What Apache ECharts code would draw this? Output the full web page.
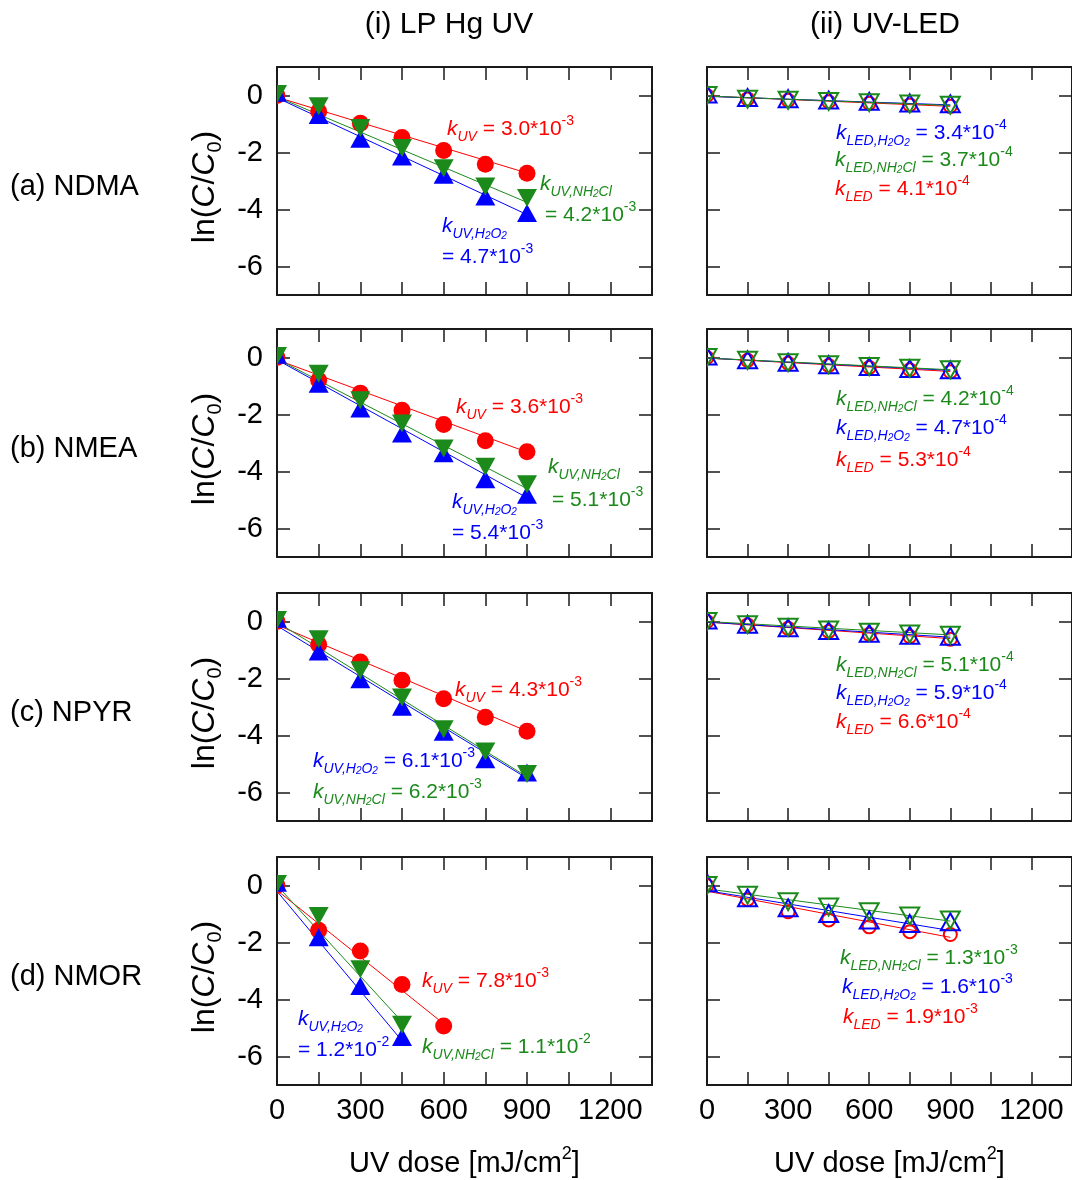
<!DOCTYPE html>
<html>
<head>
<meta charset="utf-8">
<script src="https://cdn.jsdelivr.net/npm/echarts@6/dist/echarts.min.js"></script>
<style>
  html, body { margin: 0; padding: 0; background: #fff; }
  #chart { width: 1072px; height: 1180px; }
</style>
</head>
<body>
<div id="chart"></div>
<script>
var RED = '#ff0000', GREEN = '#1b8a1b', BLUE = '#0000ff';
var FONT = '"Liberation Sans", Arial, Helvetica, sans-serif';

// x values (UV dose, mJ/cm2)
var doses = [0, 150, 300, 450, 600, 750, 900];
var dosesNMORred = [0, 150, 300, 450, 600];
var dosesNMORgb = [0, 150, 300, 450];
var fitDoses = [0, 900];

// ---- (i) LP Hg UV, ln(C/C0) ----
var ndmaUV       = [0.0, -0.56, -0.97, -1.47, -1.93, -2.41, -2.73];
var ndmaUVNH2Cl  = [0.05, -0.38, -1.14, -1.84, -2.55, -3.19, -3.60];
var ndmaUVH2O2   = [0.1, -0.68, -1.52, -2.14, -2.78, -3.54, -4.12];
var ndmaUVFit      = [-0.06, -2.72];
var ndmaUVNH2ClFit = [-0.05, -3.75];
var ndmaUVH2O2Fit  = [-0.08, -4.18];

var nmeaUV       = [0.0, -0.80, -1.25, -1.85, -2.35, -2.92, -3.31];
var nmeaUVNH2Cl  = [0.05, -0.57, -1.50, -2.32, -3.19, -3.83, -4.45];
var nmeaUVH2O2   = [0.1, -0.92, -1.79, -2.67, -3.36, -4.27, -4.82];
var nmeaUVFit      = [-0.08, -3.32];
var nmeaUVNH2ClFit = [-0.05, -4.60];
var nmeaUVH2O2Fit  = [-0.08, -4.92];

var npyrUV       = [0.0, -0.81, -1.42, -2.06, -2.71, -3.36, -3.85];
var npyrUVNH2Cl  = [0.05, -0.62, -1.71, -2.67, -3.78, -4.56, -5.35];
var npyrUVH2O2   = [0.1, -1.05, -2.03, -2.99, -3.87, -4.83, -5.30];
var npyrUVFit      = [-0.12, -3.85];
var npyrUVNH2ClFit = [-0.02, -5.45];
var npyrUVH2O2Fit  = [-0.15, -5.50];

var nmorUV       = [0.0, -1.57, -2.30, -3.47, -4.93];
var nmorUVNH2Cl  = [0.05, -1.07, -2.94, -4.89];
var nmorUVH2O2   = [0.1, -1.82, -3.53, -5.32];
var nmorUVFitX      = [0, 600];
var nmorUVFit       = [-0.17, -4.85];
var nmorUVNH2ClFitX = [0, 450];
var nmorUVNH2ClFit  = [0.0, -4.78];
var nmorUVH2O2FitX  = [0, 450];
var nmorUVH2O2Fit   = [-0.2, -5.45];

// ---- (ii) UV-LED, ln(C/C0) ----
var ndmaLED      = [0.0, -0.12, -0.17, -0.22, -0.27, -0.33, -0.38];
var ndmaLEDNH2Cl = [0.0, -0.13, -0.17, -0.21, -0.25, -0.30, -0.34];
var ndmaLEDH2O2  = [0.05, -0.07, -0.11, -0.16, -0.20, -0.26, -0.29];
var ndmaLEDFit      = [-0.02, -0.38];
var ndmaLEDNH2ClFit = [-0.02, -0.35];
var ndmaLEDH2O2Fit  = [-0.03, -0.33];

var nmeaLED      = [0.0, -0.10, -0.20, -0.28, -0.35, -0.43, -0.50];
var nmeaLEDNH2Cl = [0.0, -0.10, -0.18, -0.25, -0.32, -0.38, -0.43];
var nmeaLEDH2O2  = [0.05, -0.08, -0.17, -0.25, -0.32, -0.39, -0.43];
var nmeaLEDFit      = [-0.02, -0.49];
var nmeaLEDNH2ClFit = [-0.02, -0.43];
var nmeaLEDH2O2Fit  = [-0.02, -0.45];

var npyrLED      = [0.0, -0.12, -0.24, -0.35, -0.45, -0.53, -0.62];
var npyrLEDNH2Cl = [0.0, -0.11, -0.20, -0.30, -0.38, -0.44, -0.48];
var npyrLEDH2O2  = [0.05, -0.10, -0.22, -0.32, -0.41, -0.48, -0.52];
var npyrLEDFit      = [-0.02, -0.60];
var npyrLEDNH2ClFit = [0.0, -0.47];
var npyrLEDH2O2Fit  = [-0.02, -0.55];

var nmorLED      = [0.0, -0.49, -0.92, -1.21, -1.45, -1.62, -1.72];
var nmorLEDNH2Cl = [0.0, -0.34, -0.57, -0.75, -0.92, -1.07, -1.21];
var nmorLEDH2O2  = [0.1, -0.43, -0.78, -0.98, -1.21, -1.33, -1.27];
var nmorLEDFit      = [-0.2, -1.82];
var nmorLEDNH2ClFit = [-0.12, -1.25];
var nmorLEDH2O2Fit  = [-0.18, -1.58];

// labels
var colTitles = ['(i) LP Hg UV', '(ii) UV-LED'];
var rowLabels = ['(a) NDMA', '(b) NMEA', '(c) NPYR', '(d) NMOR'];
var xTickValues = [0, 300, 600, 900, 1200];
var yTickValues = [-6, -4, -2, 0];

// panel layout
var colLeft = [277, 707];
var rowTop = [67, 329, 593, 857];
var panelW = 375, panelH = 228;

function zip(xs, ys) {
  return ys.map(function (y, i) { return [xs[i], y]; });
}

// one set = marker kind + points + fitted line
function set(color, shape, xs, ys, fx, fy) {
  return { color: color, shape: shape, xs: xs, ys: ys, fx: fx, fy: fy };
}

var panels = [
  [ // NDMA
    [set(RED, 'circle', doses, ndmaUV, fitDoses, ndmaUVFit),
     set(BLUE, 'up', doses, ndmaUVH2O2, fitDoses, ndmaUVH2O2Fit),
     set(GREEN, 'down', doses, ndmaUVNH2Cl, fitDoses, ndmaUVNH2ClFit)],
    [set(RED, 'circle', doses, ndmaLED, fitDoses, ndmaLEDFit),
     set(BLUE, 'up', doses, ndmaLEDH2O2, fitDoses, ndmaLEDH2O2Fit),
     set(GREEN, 'down', doses, ndmaLEDNH2Cl, fitDoses, ndmaLEDNH2ClFit)]
  ],
  [ // NMEA
    [set(RED, 'circle', doses, nmeaUV, fitDoses, nmeaUVFit),
     set(BLUE, 'up', doses, nmeaUVH2O2, fitDoses, nmeaUVH2O2Fit),
     set(GREEN, 'down', doses, nmeaUVNH2Cl, fitDoses, nmeaUVNH2ClFit)],
    [set(RED, 'circle', doses, nmeaLED, fitDoses, nmeaLEDFit),
     set(BLUE, 'up', doses, nmeaLEDH2O2, fitDoses, nmeaLEDH2O2Fit),
     set(GREEN, 'down', doses, nmeaLEDNH2Cl, fitDoses, nmeaLEDNH2ClFit)]
  ],
  [ // NPYR
    [set(RED, 'circle', doses, npyrUV, fitDoses, npyrUVFit),
     set(BLUE, 'up', doses, npyrUVH2O2, fitDoses, npyrUVH2O2Fit),
     set(GREEN, 'down', doses, npyrUVNH2Cl, fitDoses, npyrUVNH2ClFit)],
    [set(RED, 'circle', doses, npyrLED, fitDoses, npyrLEDFit),
     set(BLUE, 'up', doses, npyrLEDH2O2, fitDoses, npyrLEDH2O2Fit),
     set(GREEN, 'down', doses, npyrLEDNH2Cl, fitDoses, npyrLEDNH2ClFit)]
  ],
  [ // NMOR
    [set(RED, 'circle', dosesNMORred, nmorUV, nmorUVFitX, nmorUVFit),
     set(BLUE, 'up', dosesNMORgb, nmorUVH2O2, nmorUVH2O2FitX, nmorUVH2O2Fit),
     set(GREEN, 'down', dosesNMORgb, nmorUVNH2Cl, nmorUVNH2ClFitX, nmorUVNH2ClFit)],
    [set(RED, 'circle', doses, nmorLED, fitDoses, nmorLEDFit),
     set(BLUE, 'up', doses, nmorLEDH2O2, fitDoses, nmorLEDH2O2Fit),
     set(GREEN, 'down', doses, nmorLEDNH2Cl, fitDoses, nmorLEDNH2ClFit)]
  ]
];

// annotation text (rich), [x, y, color, text]
function kUV(sub, val, exp) { return '{k|k}' + sub + '{m| = ' + val + '*10}{p|' + exp + '}'; }
var SUB_UV = '{s|UV}';
var SUB_UV_H2O2 = '{s|UV,H}{ss|2}{s|O}{ss|2}';
var SUB_UV_NH2CL = '{s|UV,NH}{ss|2}{s|Cl}';
var SUB_LED = '{s|LED}';
var SUB_LED_H2O2 = '{s|LED,H}{ss|2}{s|O}{ss|2}';
var SUB_LED_NH2CL = '{s|LED,NH}{ss|2}{s|Cl}';

var notes = [
  // (a)
  [447, 129, RED, kUV(SUB_UV, '3.0', '-3')],
  [540, 184, GREEN, '{k|k}' + SUB_UV_NH2CL],
  [545, 215, GREEN, '{m|= 4.2*10}{p|-3}'],
  [442, 226, BLUE, '{k|k}' + SUB_UV_H2O2],
  [442, 257, BLUE, '{m|= 4.7*10}{p|-3}'],
  [836, 133, BLUE, kUV(SUB_LED_H2O2, '3.4', '-4')],
  [835, 160, GREEN, kUV(SUB_LED_NH2CL, '3.7', '-4')],
  [835, 189, RED, kUV(SUB_LED, '4.1', '-4')],
  // (b)
  [456, 407, RED, kUV(SUB_UV, '3.6', '-3')],
  [548, 467, GREEN, '{k|k}' + SUB_UV_NH2CL],
  [552, 500, GREEN, '{m|= 5.1*10}{p|-3}'],
  [452, 502, BLUE, '{k|k}' + SUB_UV_H2O2],
  [452, 533, BLUE, '{m|= 5.4*10}{p|-3}'],
  [836, 399, GREEN, kUV(SUB_LED_NH2CL, '4.2', '-4')],
  [836, 428, BLUE, kUV(SUB_LED_H2O2, '4.7', '-4')],
  [836, 460, RED, kUV(SUB_LED, '5.3', '-4')],
  // (c)
  [455, 690, RED, kUV(SUB_UV, '4.3', '-3')],
  [313, 761, BLUE, kUV(SUB_UV_H2O2, '6.1', '-3')],
  [313, 792, GREEN, kUV(SUB_UV_NH2CL, '6.2', '-3')],
  [836, 665, GREEN, kUV(SUB_LED_NH2CL, '5.1', '-4')],
  [836, 693, BLUE, kUV(SUB_LED_H2O2, '5.9', '-4')],
  [836, 722, RED, kUV(SUB_LED, '6.6', '-4')],
  // (d)
  [422, 981, RED, kUV(SUB_UV, '7.8', '-3')],
  [298, 1019, BLUE, '{k|k}' + SUB_UV_H2O2],
  [298, 1050, BLUE, '{m|= 1.2*10}{p|-2}'],
  [422, 1047, GREEN, kUV(SUB_UV_NH2CL, '1.1', '-2')],
  [840, 958, GREEN, kUV(SUB_LED_NH2CL, '1.3', '-3')],
  [842, 987, BLUE, kUV(SUB_LED_H2O2, '1.6', '-3')],
  [843, 1017, RED, kUV(SUB_LED, '1.9', '-3')]
];

var noteRich = {
  k: { fontSize: 21, fontStyle: 'italic', lineHeight: 30, fontFamily: FONT },
  m: { fontSize: 21, lineHeight: 30, fontFamily: FONT },
  s: { fontSize: 14, fontStyle: 'italic', lineHeight: 14, verticalAlign: 'bottom', fontFamily: FONT },
  ss: { fontSize: 10, fontStyle: 'italic', lineHeight: 12, verticalAlign: 'bottom', fontFamily: FONT },
  p: { fontSize: 14, lineHeight: 14, verticalAlign: 'top', fontFamily: FONT }
};

// marker drawn via custom series so it is clipped by the frame like the original
function markerItem(shape, color, filled) {
  var w = filled ? (shape === 'circle' ? 17 : 20) : (shape === 'circle' ? 15 : 19);
  var h = shape === 'circle' ? w : (filled ? 18 : 17);
  var style = filled
    ? { fill: color, stroke: null }
    : { fill: 'none', stroke: color, lineWidth: 2 };
  return function (params, api) {
    var p = api.coord([api.value(0), api.value(1)]);
    if (shape === 'circle') {
      return { type: 'circle', shape: { cx: p[0], cy: p[1], r: filled ? w / 2 : w / 2 - 1 }, style: style };
    }
    var s = shape === 'up' ? 1 : -1;
    return {
      type: 'polygon',
      shape: { points: [[p[0], p[1] - s * h / 2], [p[0] + w / 2, p[1] + s * h / 2], [p[0] - w / 2, p[1] + s * h / 2]] },
      style: style
    };
  };
}

var grids = [], xAxes = [], yAxes = [], series = [], graphics = [];
var AXIS_COLOR = '#1a1a1a';

for (var r = 0; r < 4; r++) {
  for (var c = 0; c < 2; c++) {
    var gi = grids.length;
    grids.push({ left: colLeft[c], top: rowTop[r], width: panelW, height: panelH, containLabel: false });

    var tickStyle = { show: true, inside: true, length: 13, lineStyle: { color: AXIS_COLOR, width: 1.5 } };
    var lineStyle = { show: true, onZero: false, lineStyle: { color: AXIS_COLOR, width: 2 } };

    ['bottom', 'top'].forEach(function (pos) {
      var bottomRow = (pos === 'bottom' && r === 3);
      xAxes.push({
        gridIndex: gi, type: 'value', position: pos,
        min: 0, max: 1350, interval: 150,
        axisLine: lineStyle, axisTick: tickStyle, splitLine: { show: false },
        axisLabel: {
          show: bottomRow, customValues: xTickValues, margin: 11,
          fontSize: 29, color: '#000', fontFamily: FONT,
          formatter: function (v) { return String(v); }
        },
        name: bottomRow ? '{t|UV dose [mJ/cm}{p|2}{t|]}' : '',
        nameLocation: 'middle', nameGap: 60,
        nameTextStyle: {
          color: '#000',
          rich: {
            t: { fontSize: 29, lineHeight: 38, fontFamily: FONT, color: '#000' },
            p: { fontSize: 18, lineHeight: 18, verticalAlign: 'top', fontFamily: FONT, color: '#000' }
          }
        }
      });
    });

    ['left', 'right'].forEach(function (pos) {
      var leftCol = (pos === 'left' && c === 0);
      yAxes.push({
        gridIndex: gi, type: 'value', position: pos,
        min: -7, max: 1, interval: 1,
        axisLine: lineStyle,
        axisTick: Object.assign({}, tickStyle, { customValues: yTickValues }),
        splitLine: { show: false },
        axisLabel: {
          show: leftCol, customValues: yTickValues, margin: 14,
          fontSize: 29, color: '#000', fontFamily: FONT
        },
        name: leftCol ? '{t|ln(}{i|C}{t|/}{i|C}{b|0}{t|)}' : '',
        nameLocation: 'middle', nameGap: 52, nameRotate: 90,
        nameTextStyle: {
          color: '#000',
          padding: [0, 12, 0, 0],
          rich: {
            t: { fontSize: 32, lineHeight: 40, fontFamily: FONT, color: '#000' },
            i: { fontSize: 32, lineHeight: 40, fontStyle: 'italic', fontFamily: FONT, color: '#000' },
            b: { fontSize: 20, lineHeight: 20, verticalAlign: 'bottom', fontFamily: FONT, color: '#000' }
          }
        }
      });
    });

    var xi = gi * 2, yi = gi * 2;
    var filled = (c === 0);
    panels[r][c].forEach(function (s) {
      series.push({
        type: 'line', xAxisIndex: xi, yAxisIndex: yi,
        data: zip(s.fx, s.fy), symbol: 'none', silent: true,
        lineStyle: { color: s.color, width: 1 }, z: 2, animation: false
      });
    });
    panels[r][c].forEach(function (s) {
      series.push({
        type: 'custom', xAxisIndex: xi, yAxisIndex: yi, clip: true,
        data: zip(s.xs, s.ys), renderItem: markerItem(s.shape, s.color, filled),
        encode: { x: 0, y: 1 }, z: 3, animation: false
      });
    });
  }
}

// column titles and row labels
colTitles.forEach(function (t, c) {
  graphics.push({
    type: 'text', x: colLeft[c] + (c === 0 ? 172 : 178), y: 25,
    style: { text: t, fontSize: 30, fontFamily: FONT, fill: '#000', align: 'center', verticalAlign: 'middle' }
  });
});
rowLabels.forEach(function (t, r) {
  graphics.push({
    type: 'text', x: 10, y: rowTop[r] + 120,
    style: { text: t, fontSize: 29, fontFamily: FONT, fill: '#000', align: 'left', verticalAlign: 'middle' }
  });
});
notes.forEach(function (n) {
  graphics.push({
    type: 'text', x: n[0], y: n[1], z: 10,
    style: { text: n[3], rich: noteRich, fill: n[2], fontFamily: FONT, align: 'left', verticalAlign: 'middle' }
  });
});

var chart = echarts.init(document.getElementById('chart'), null, { renderer: 'canvas' });
chart.setOption({
  backgroundColor: '#fff',
  animation: false,
  textStyle: { fontFamily: FONT },
  grid: grids,
  xAxis: xAxes,
  yAxis: yAxes,
  series: series,
  graphic: graphics
});
</script>
</body>
</html>
